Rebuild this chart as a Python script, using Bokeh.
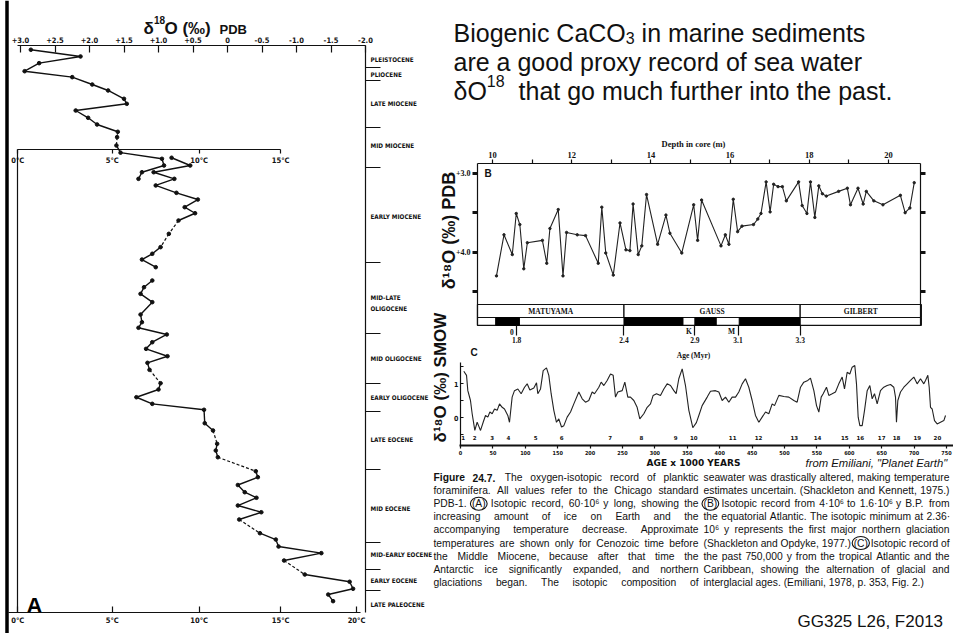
import math
from bokeh.plotting import figure
from bokeh.models import Range1d, LinearAxis, FixedTicker, Span
from bokeh.core.properties import value
from bokeh.embed import file_html
from bokeh.resources import INLINE

W, H = 953, 633

# ---------------- DATA ----------------
# Panel A : d18O (per mil PDB) vs age (Myr), three site records
a_d18o = [2.85, 2.13, 2.73, 2.94, 2.25, 1.96, 1.73, 1.50, 1.46, 2.20, 2.02, 1.89, 1.59, 1.60, 1.61, 1.55, 0.95, 0.92, 1.24, 1.29,
          0.81, 0.54, 1.07, 0.77, 1.04, 0.74, 0.43, 0.62, 0.47, 0.71, 0.85, 0.97, 1.09, 1.24, 1.04,
          1.09, 1.21, 1.26, 1.09, 1.26, 1.24, 1.29, 0.88, 1.09, 1.18, 0.87, 1.16, 1.13, 0.97, 1.00, 1.32, 1.09, 0.34, 0.33, 0.21,
          0.15, 0.17, 0.14, -0.41, -0.44, -0.15, -0.25, -0.42, -0.15, -0.49, -0.17, -0.47, -0.70, -0.74, -1.36, -0.82, -1.12,
          -1.77, -1.82, -1.46, -1.53]
a_age = [0.45, 1.16, 1.87, 2.72, 3.35, 4.13, 4.76, 5.64, 6.17, 6.88, 7.65, 8.36, 9.13, 9.70, 10.58, 11.34, 11.99, 12.70, 13.41, 14.11,
         11.88, 12.70, 13.41, 14.11, 14.81, 15.59, 16.30, 17.11, 17.75, 18.52, 19.93, 21.34, 22.04, 22.65, 23.46,
         24.87, 25.58, 26.28, 27.16, 28.47, 29.28, 29.87, 30.58, 31.40, 32.10, 32.88, 33.58, 34.32, 35.74, 36.40, 37.22, 37.92,
         38.55, 39.97, 40.74, 42.15, 42.86, 43.57, 45.05, 45.68, 46.51, 47.27, 47.86, 48.68, 49.39, 50.16, 51.61, 52.28, 53.02,
         53.72, 54.50, 55.98, 56.75, 57.49, 58.10, 58.80]
a_seg = [1] * 20 + [2] * 15 + [3] * 41
a_dashed_links = [12, 13, 29, 30, 47, 54, 57, 65, 70]   # link i -> i+1 drawn dashed

pdb_ticks = [3.0, 2.5, 2.0, 1.5, 1.0, 0.5, 0.0, -0.5, -1.0, -1.5, -2.0]
pdb_labels = ["+3.0", "+2.5", "+2.0", "+1.5", "+1.0", "+0.5", "0", "-0.5", "-1.0", "-1.5", "-2.0"]
temp_ticks = [3.04, 1.67, 0.41, -0.77, -1.87]          # d18O position of each temperature
temp_labels = ["0°C", "5°C", "10°C", "15°C", "20°C"]

epoch_bounds = [2.30, 3.70, 8.68, 12.91, 22.96, 30.48, 35.77, 38.73, 44.87, 52.59, 55.45, 57.67]
epoch_names = ["PLEISTOCENE", "PLIOCENE", "LATE MIOCENE", "MID MIOCENE", "EARLY MIOCENE", "MID-LATE", "OLIGOCENE",
               "MID OLIGOCENE", "EARLY OLIGOCENE", "LATE EOCENE", "MID EOCENE", "MID-EARLY EOCENE", "EARLY EOCENE",
               "LATE PALEOCENE"]
epoch_label_age = [1.48, 3.07, 6.14, 10.58, 18.10, 26.7, 27.8, 33.12, 37.25, 41.69, 49.0, 53.85, 56.6, 59.15]

# Panel B : d18O PDB vs depth in core (m)
b_depth = [10.10, 10.29, 10.50, 10.60, 10.69, 10.79, 10.88, 11.26, 11.37, 11.45, 11.66, 11.78, 11.87, 12.14, 12.35,
           12.67, 12.76, 12.86, 13.05, 13.22, 13.37, 13.47, 13.55, 13.68, 13.77, 13.89, 14.17, 14.38, 14.48, 14.78,
           15.08, 15.18, 15.28, 15.77, 15.88, 15.97, 16.08, 16.19, 16.30, 16.59, 16.70, 16.78, 16.91, 17.01, 17.10,
           17.21, 17.32, 17.42, 17.73, 17.82, 17.94, 18.03, 18.14, 18.24, 18.33, 18.43, 18.74, 18.96, 19.04, 19.23,
           19.36, 19.44, 19.63, 19.86, 20.30, 20.42, 20.54, 20.65]
b_d18o = [4.30, 3.78, 4.03, 3.51, 3.65, 4.21, 3.88, 3.85, 4.14, 3.70, 3.46, 4.30, 3.75, 3.78, 3.79, 4.14, 3.43, 4.01,
          4.29, 3.63, 3.97, 3.98, 3.39, 4.03, 3.92, 3.27, 3.90, 3.53, 3.76, 4.01, 3.40, 3.85, 3.34, 3.92, 3.78, 3.90,
          3.33, 3.74, 3.67, 3.65, 3.58, 3.51, 3.11, 3.49, 3.14, 3.17, 3.17, 3.35, 3.11, 3.41, 3.51, 3.11, 3.56, 3.16,
          3.26, 3.29, 3.23, 3.19, 3.40, 3.19, 3.39, 3.23, 3.35, 3.40, 3.28, 3.50, 3.44, 3.12]
depth_ticks = [10, 11, 12, 13, 14, 15, 16, 17, 18, 19, 20]
depth_labels = ["10", "", "12", "", "14", "", "16", "", "18", "", "20"]
b_ticks = [3.0, 3.5, 4.0, 4.5]
b_labels = ["+3.0", "", "+4.0", ""]
chron_names = ["MATUYAMA", "GAUSS", "GILBERT"]
chron_left = [9.62, 13.32, 17.77]
chron_right = [13.32, 17.77, 20.83]
normal_left = [10.08, 13.32, 15.11, 16.23]
normal_right = [10.68, 14.81, 15.65, 17.77]
age_tick_depth = [10.61, 13.32, 15.11, 16.20, 17.77]
age_tick_labels = ["1.8", "2.4", "2.9", "3.1", "3.3"]
subchron_names = ["0", "K", "M"]
subchron_depth = [10.61, 15.11, 16.20]

# Panel C : d18O SMOW vs age (kyr)
c_age = [5.1, 9.3, 11.3, 15.4, 18.0, 22.1, 25.7, 28.3, 30.9, 35.0, 38.6, 42.2, 45.3, 48.9, 52.5, 56.6, 60.2, 64.3, 67.9,
         73.0, 75.6, 79.7, 83.3, 88.5, 93.6, 98.8, 102.9, 107.0, 113.2, 117.3, 119.3, 123.5, 127.6, 132.7, 136.3, 139.9,
         144.0, 148.1, 151.7, 155.9, 159.5, 164.6, 169.8, 174.9, 182.6, 187.8, 192.9, 198.0, 203.2, 206.8, 213.5, 217.1,
         221.2, 226.3, 231.5, 235.6, 239.2, 242.8, 249.5, 253.6, 258.2, 262.3, 267.5, 272.6, 276.7, 282.9, 288.1, 293.2,
         297.3, 302.5, 308.6, 313.8, 318.9, 324.1, 329.2, 332.8, 336.9, 342.1, 347.2, 352.4, 358.5,
         364.0, 367.8, 372.9, 380.7, 385.8, 393.5, 398.7, 403.8, 409.0, 414.1, 419.2, 424.4, 429.5, 434.7, 439.8, 444.9,
         450.1, 455.2, 460.4, 465.5, 470.7, 475.8, 481.0, 484.6, 491.3, 499.0, 506.7, 514.4, 519.5, 524.7, 529.8, 536.0,
         540.1, 545.3, 549.4, 553.0, 556.6, 559.7, 564.8, 568.4, 573.6, 578.7, 583.8, 589.0, 592.6, 596.7, 600.8, 604.4,
         608.5, 611.1, 613.7, 616.3, 619.9, 623.5, 627.6, 631.7, 635.3, 638.9, 643.0, 648.1, 653.2, 658.4, 663.6, 668.7,
         671.3, 672.8, 674.9, 679.0, 684.2, 689.3, 694.4, 699.6, 704.7, 709.9, 715.0, 717.6, 721.2, 723.3, 725.3, 727.9,
         731.5, 735.6, 740.7, 745.9, 748.5]
c_d18o = [1.36, 1.24, 0.79, 0.50, 0.11, -0.38, -0.14, -0.26, -0.38, -0.14, 0.06, 0.01, 0.16, 0.11, 0.25, 0.21, 0.40, 0.30,
          0.25, 0.06, -0.14, 0.60, 0.79, 0.84, 0.70, 0.89, 0.99, 0.81, 0.87, 1.02, 0.70, 0.84, 1.38, 1.46, 1.24, 0.70,
          0.21, -0.14, -0.04, -0.28, -0.24, 0.01, 0.16, 0.40, 0.75, 0.55, 0.45, 0.50, 0.75, 0.70, 0.89, 1.04, 0.94, 1.09,
          1.28, 1.24, 0.60, 0.75, 0.79, 1.04, 0.60, 0.60, 0.50, 0.30, -0.04, 0.11, 0.30, 0.40, 0.65, 0.70, 0.65, 0.84,
          0.99, 0.94, 0.79, 0.70, 1.14, 1.43, 0.94, 0.21, -0.30,
          -0.15, 0.06, 0.35, 0.60, 0.77, 0.79, 0.75, 0.50, 0.60, 0.45, 0.60, 0.60, 0.75, 0.99, 1.14, 0.89, 0.50, 0.06,
          -0.14, 0.01, 0.16, 0.11, 0.40, 0.35, 0.65, 0.62, 0.60, 0.50, 0.45, 0.89, 1.04, 1.09, 1.16, 0.79, 0.35, 0.16,
          0.60, 0.70, 0.89, 0.65, 0.70, 0.75, 0.99, 1.19, 0.84, 1.33, 1.28, 1.48, 1.53, 0.99, 0.01, -0.24, -0.24, 0.21,
          0.79, 0.94, 0.55, 0.70, 0.40, 0.79, 0.89, 0.94, 0.97, 0.89, 0.60, -0.14, 0.50, 0.75, 0.89, 0.99, 1.09, 1.19,
          0.99, 1.14, 0.99, 1.09, 1.24, 0.89, 0.30, 0.25, -0.09, -0.19, -0.14, -0.09, 0.06]
c_ticks = [0, 50, 100, 150, 200, 250, 300, 350, 400, 450, 500, 550, 600, 650, 700, 750]
c_tick_labels = ["0", "50", "100", "150", "200", "250", "300", "350", "400", "450", "500", "550", "600", "650", "700", "750"]
c_yticks = [-0.5, 0.0, 0.5, 1.0, 1.5]
c_ylabels = ["", "0", "", "1", ""]
stage_names = ["1", "2", "3", "4", "5", "6", "7", "8", "9", "10", "11", "12", "13", "14", "15", "16", "17", "18", "19", "20"]
stage_age = [4, 22, 49, 74, 116, 156, 231, 279, 332, 360, 420, 460, 515, 551, 593, 617, 650, 673, 705, 736]

slide_lines = ["Biogenic CaCO", "3", "in marine sediments", "are a good proxy record of sea water",
               "δO", "18", "that go much further into the past."]
caption_left = ["Figure 24.7. The oxygen-isotopic record of planktic",
                "foraminifera. All values refer to the Chicago standard",
                "PDB-1. (A) Isotopic record, 60·10⁶ y long, showing the",
                "increasing amount of ice on Earth and the",
                "accompanying temperature decrease. Approximate",
                "temperatures are shown only for Cenozoic time before",
                "the Middle Miocene, because after that time the",
                "Antarctic ice significantly expanded, and northern",
                "glaciations began. The isotopic composition of"]
caption_right = ["seawater was drastically altered, making temperature",
                 "estimates uncertain. (Shackleton and Kennett, 1975.)",
                 "(B) Isotopic record from 4·10⁶ to 1.6·10⁶ y B.P. from",
                 "the equatorial Atlantic. The isotopic minimum at 2.36·",
                 "10⁶ y represents the first major northern glaciation",
                 "(Shackleton and Opdyke, 1977.) (C) Isotopic record of",
                 "the past 750,000 y from the tropical Atlantic and the",
                 "Caribbean, showing the alternation of glacial and",
                 "interglacial ages. (Emiliani, 1978, p. 353, Fig. 2.)"]

# ---------------- helpers ----------------
AW = {}
for w_, chars in {191: "'", 222: "ijl", 278: " !,./:;I[]\\ft·", 333: "()-r`⁶", 355: '"', 389: "*", 400: "°",
                  500: "Jckvxyzs", 556: "0123456789abdeghnopquL$#_?δ", 584: "+<=>×", 611: "FTZ",
                  667: "ABEKPSVXY", 722: "CDHNRUw", 778: "GOQ", 833: "mM", 889: "%", 944: "W", 1000: "‰"}.items():
    for ch in chars:
        AW[ch] = w_


def tw(s, size, bold=False):
    return sum(AW.get(c, 556) for c in s) / 1000.0 * size * (1.06 if bold else 1.0)


def lin(v0, p0, v1, p1):
    k = (v1 - v0) / (p1 - p0)
    return lambda px: v0 + (px - p0) * k


def xr(f):
    return Range1d(start=f(0), end=f(W))


def yr(f):
    return Range1d(start=f(H), end=f(0))


fxA, fyA = lin(3.0, 20, -2.0, 365), lin(0.0, 45, 60.0, 612)
fxB, fyB = lin(10.0, 492, 20.0, 888), lin(3.0, 172.7, 4.0, 251.7)
fyP = lin(0.0, 304, 1.0, 317)
fxC, fyC = lin(0.0, 460, 750.0, 946), lin(0.0, 417, 1.0, 383)

p = figure(width=W, height=H, x_range=Range1d(0, W), y_range=Range1d(H, 0), min_border=0,
           toolbar_location=None, output_backend="svg", x_axis_location=None, y_axis_location=None,
           outline_line_color=None, background_fill_color="white", border_fill_color="white")
p.extra_x_ranges = {"dA": xr(fxA), "depth": xr(fxB), "ageC": xr(fxC)}
p.extra_y_ranges = {"ageA": yr(fyA), "dB": yr(fyB), "pol": yr(fyP), "dC": yr(fyC)}

SCAN = "DejaVu Sans Condensed"
SERIF = "Liberation Serif"
SANS = "Liberation Sans"
INK = "#111111"


def axis(side, xn, yn, loc, bounds, ticks, labels=None, t_in=0, t_out=0, lw=1.2, tlw=1.2, font=SCAN, size="7px",
         standoff=2, line=True, style="bold"):
    ax = LinearAxis(x_range_name=xn, y_range_name=yn, fixed_location=loc, bounds=bounds or "auto",
                    ticker=FixedTicker(ticks=ticks))
    ax.minor_tick_line_color = None
    ax.major_tick_in = t_in
    ax.major_tick_out = t_out
    ax.major_tick_line_width = tlw
    ax.major_tick_line_color = INK
    ax.axis_line_width = lw
    ax.axis_line_color = INK if line else None
    ax.major_label_standoff = standoff
    ax.major_label_text_font = font
    ax.major_label_text_font_size = size
    ax.major_label_text_font_style = style
    ax.major_label_text_color = INK
    if labels is None:
        ax.major_label_text_color = None
    else:
        ax.major_label_overrides = dict(zip(ticks, labels))
    p.add_layout(ax, side)
    return ax


def txt(x, y, s, size, font=SANS, style="normal", align="left", baseline="middle", xn="default", yn="default",
        angle=0.0, color=INK):
    n = max(len(v) if isinstance(v, list) else 1 for v in (x, y, s, size))
    xs = x if isinstance(x, list) else [x] * n
    ys = y if isinstance(y, list) else [y] * n
    ss = s if isinstance(s, list) else [s] * n
    fs = [f"{v:.2f}px" for v in size] if isinstance(size, list) else [f"{size}px"] * n
    p.text(x=xs, y=ys, text=ss, text_font=value(font), text_font_size=fs, text_font_style=style,
           text_align=align, text_baseline=baseline, x_range_name=xn, y_range_name=yn, angle=angle,
           text_color=color)


# ---------------- Panel A ----------------
p.add_layout(Span(location=6.5, dimension="height", line_color="black", line_width=3.5))

axis("above", "dA", "ageA", 0.0, (-2.0, fxA(17)), pdb_ticks, pdb_labels, t_in=7, size="7.5px", standoff=3)
axis("right", "dA", "ageA", -2.0, (0.0, 60.0), epoch_bounds, None, t_out=15)
axis("below", "dA", "ageA", fyA(149), (temp_ticks[3], temp_ticks[0]), temp_ticks[:4], temp_labels[:4],
     t_out=4, size="7.5px", standoff=2)
axis("below", "dA", "ageA", 60.0, (fxA(360), fxA(8)), temp_ticks, temp_labels, t_in=6, size="7.5px", standoff=3)
axis("left", "dA", "ageA", temp_ticks[0], (fyA(149), 60.0), [], None)

solid_x, solid_y, dash_x, dash_y = [], [], [], []
cx, cy = [a_d18o[0]], [a_age[0]]
for i in range(1, len(a_d18o)):
    if a_seg[i] != a_seg[i - 1]:
        solid_x.append(cx); solid_y.append(cy)
        cx, cy = [a_d18o[i]], [a_age[i]]
    elif (i - 1) in a_dashed_links:
        dash_x.append([a_d18o[i - 1], a_d18o[i]]); dash_y.append([a_age[i - 1], a_age[i]])
        solid_x.append(cx); solid_y.append(cy)
        cx, cy = [a_d18o[i]], [a_age[i]]
    else:
        cx.append(a_d18o[i]); cy.append(a_age[i])
solid_x.append(cx); solid_y.append(cy)
p.multi_line(solid_x, solid_y, line_color=INK, line_width=1.4, x_range_name="dA", y_range_name="ageA")
p.multi_line(dash_x, dash_y, line_color=INK, line_width=1.2, line_dash="3 2", x_range_name="dA", y_range_name="ageA")
p.scatter(a_d18o, a_age, size=3.6, color=INK, x_range_name="dA", y_range_name="ageA")

txt(fxA(370), epoch_label_age, epoch_names, 6.3, font=SCAN, style="bold", xn="dA", yn="ageA")

txt(143, 28, "δ", 17, style="bold", baseline="alphabetic")
txt(153.5, 19, "18", 10, style="bold", baseline="alphabetic")
txt(164, 28, "O (‰)", 17, style="bold", baseline="alphabetic")
txt(219, 29, "PDB", 13, style="bold", baseline="alphabetic")
txt(26, 605, "A", 22, style="bold", baseline="alphabetic", color="black")

# ---------------- Panel B ----------------
axis("above", "depth", "dB", fyB(163), (fxB(477), fxB(920)), depth_ticks, depth_labels, t_out=4, font=SERIF,
     size="8.5px", standoff=2)
axis("left", "depth", "dB", fxB(477), (fyB(325), fyB(163)), b_ticks, b_labels, t_out=5, tlw=3, font=SERIF,
     size="8px", standoff=2)
axis("right", "depth", "dB", fxB(920), (fyB(325), fyB(163)), b_ticks, None, t_out=5, tlw=3)
txt(693, 143, "Depth in core (m)", 8.5, font=SERIF, style="bold", align="center")
txt(484, 173, "B", 10, style="bold")
txt(448, 230, "δ¹⁸O (‰) PDB", 18, style="bold", align="center", angle=math.pi / 2)

p.line(b_depth, b_d18o, line_color="#222222", line_width=1.1, x_range_name="depth", y_range_name="dB")
p.scatter(b_depth, b_d18o, size=2.4, color="#222222", x_range_name="depth", y_range_name="dB")

p.quad(left=chron_left, right=chron_right, top=[0.0] * 3, bottom=[1.0] * 3, fill_color="white", line_color=INK,
       line_width=1.2, x_range_name="depth", y_range_name="pol")
txt([(l + r) / 2 for l, r in zip(chron_left, chron_right)], 0.5, chron_names, 7.5, font=SERIF, style="bold",
    align="center", xn="depth", yn="pol")
p.quad(left=[chron_left[0]], right=[chron_right[-1]], top=[1.0], bottom=[1.6], fill_color="white", line_color=INK,
       line_width=1.2, x_range_name="depth", y_range_name="pol")
p.quad(left=normal_left, right=normal_right, top=[1.0] * 4, bottom=[1.6] * 4, fill_color="black", line_color="black",
       x_range_name="depth", y_range_name="pol")
axis("below", "depth", "pol", 1.6, None, age_tick_depth, age_tick_labels, t_out=10, font=SERIF, size="7.5px",
     standoff=2, line=False)
txt([d - fxB(495) + fxB(492) for d in subchron_depth], fyP(331), subchron_names, 7.5, font=SERIF, style="bold",
    align="right", xn="depth", yn="pol")
txt(693, 355, "Age (Myr)", 7.5, font=SERIF, style="bold", align="center")

# ---------------- Panel C ----------------
axis("left", "ageC", "dC", 0.0, (fyC(445), fyC(362)), c_yticks, c_ylabels, t_in=3, size="7px", standoff=2)
axis("below", "ageC", "dC", fyC(445), (fxC(459), fxC(953)), c_ticks, c_tick_labels, t_out=3, lw=2.2,
     size="5.5px", standoff=1)
p.line(c_age, c_d18o, line_color="#222222", line_width=1.1, x_range_name="ageC", y_range_name="dC")
txt(stage_age, fyC(437), stage_names, 5.5, font="DejaVu Sans", style="bold", align="center", xn="ageC", yn="dC")
txt(470, 352, "C", 10, style="bold")
txt(693, 462, "AGE x 1000 YEARS", 9, font="DejaVu Sans", style="bold", align="center")
txt(440, 377, "δ¹⁸O (‰) SMOW", 17, style="bold", align="center", angle=math.pi / 2)

# ---------------- Slide text ----------------
FS = 25
x0 = 453
txt(x0, 32, slide_lines[0], FS, baseline="alphabetic")
xs = x0 + tw(slide_lines[0], FS)
txt(xs, 37, slide_lines[1], 16, baseline="alphabetic")
xs += tw(slide_lines[1], 16) + tw(" ", FS)
txt(xs, 32, slide_lines[2], FS, baseline="alphabetic")
txt(x0, 61, slide_lines[3], FS, baseline="alphabetic")
txt(x0, 90, slide_lines[4], FS, baseline="alphabetic")
xs = x0 + tw(slide_lines[4], FS)
txt(xs, 80, slide_lines[5], 16, baseline="alphabetic")
xs += tw(slide_lines[5], 16) + 2 * tw(" ", FS)
txt(xs, 90, slide_lines[6], FS, baseline="alphabetic")

txt(805, 462, 'from Emiliani, "Planet Earth"', 11.3, style="italic")
txt(797, 621, "GG325 L26, F2013", 17)

# ---------------- Caption (justified) ----------------
CS = 10.3
words_x, words_y, words_t, words_s = [], [], [], []
bold_x, bold_y, bold_t, bold_s = [], [], [], []
circles = []


def justify(lines, left, width, last_full, first_bold):
    for i, line in enumerate(lines):
        y = 477 + 13.1 * i
        ws = line.split(" ")
        bold = [first_bold and i == 0 and j < 2 for j in range(len(ws))]
        natural = sum(tw(w, CS, b) for w, b in zip(ws, bold)) + tw(" ", CS) * 0.8 * (len(ws) - 1)
        size = CS if natural <= width else CS * width / natural
        wid = [tw(w, size, b) for w, b in zip(ws, bold)]
        full = (i < len(lines) - 1) or last_full
        gap = (width - sum(wid)) / (len(ws) - 1) if full else tw(" ", size)
        x = left
        for w, wd, b in zip(ws, wid, bold):
            if b:
                bold_x.append(x); bold_y.append(y); bold_t.append(w); bold_s.append(size)
            else:
                words_x.append(x); words_y.append(y); words_t.append(w); words_s.append(size)
            if w in ("(A)", "(B)", "(C)"):
                circles.append((x + wd / 2, y, wd + 3))
            x += wd + gap


justify(caption_left, 433, 265, True, True)
justify(caption_right, 703, 246, False, False)
txt(words_x, words_y, words_t, words_s)
txt(bold_x, bold_y, bold_t, bold_s, style="bold")
p.ellipse(x=[c[0] for c in circles], y=[c[1] for c in circles], width=[c[2] for c in circles],
          height=[13] * len(circles), fill_color=None, line_color=INK, line_width=1.1)

p.xgrid.visible = False
p.ygrid.visible = False

open("out.html", "w").write(file_html(p, INLINE))
